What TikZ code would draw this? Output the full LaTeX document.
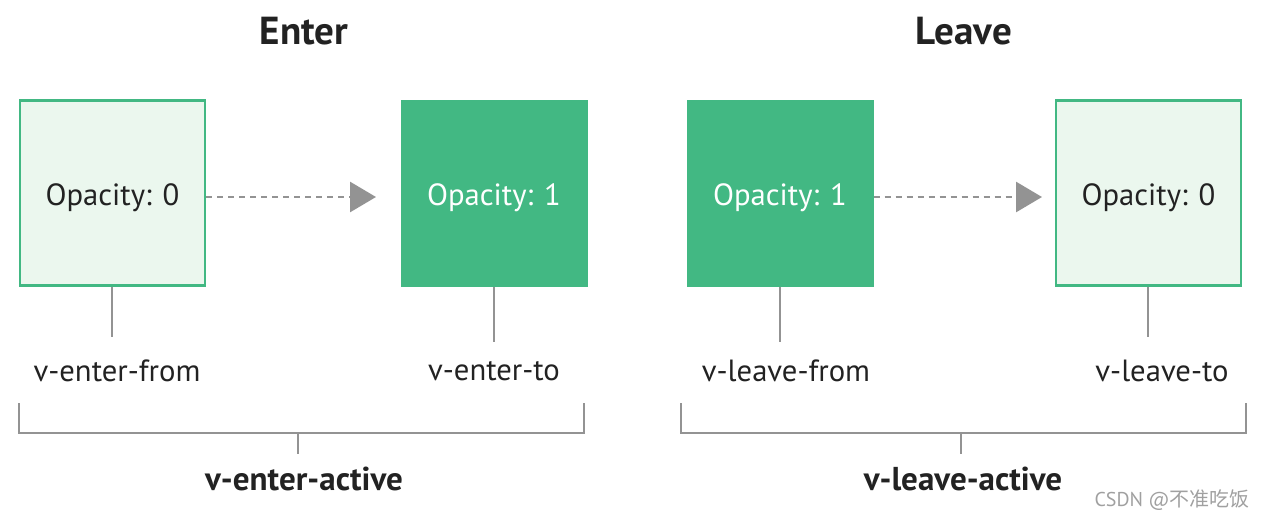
\documentclass[tikz,border=0pt]{standalone}
\usepackage{fontspec}
\setmainfont{PT Sans}
\newfontfamily\cjkfont{Noto Sans CJK SC}
\usetikzlibrary{arrows.meta}
\definecolor{vgreen}{HTML}{42B883}
\definecolor{vlight}{HTML}{EBF7EE}
\definecolor{lgrey}{HTML}{939393}
\definecolor{wgrey}{HTML}{A0A0A0}
\definecolor{tdark}{HTML}{222222}
\tikzset{
  lightbox/.style={draw=vgreen, line width=1.9pt, fill=vlight, minimum width=138.75pt, minimum height=138.75pt, inner sep=0pt},
  fullbox/.style={draw=vgreen, line width=0.75pt, fill=vgreen, minimum width=139.5pt, minimum height=139.5pt, inner sep=0pt},
  darktxt/.style={text=tdark, font=\fontsize{23pt}{26pt}\selectfont, inner sep=0pt},
  whitetxt/.style={text=white, font=\fontsize{23pt}{26pt}\selectfont, inner sep=0pt},
  tick/.style={draw=lgrey, line width=2.2pt},
  flow/.style={draw=lgrey, line width=2.2pt, dash pattern=on 4.5pt off 3.75pt, -{Triangle[length=19.5pt, width=22.5pt, fill=lgrey]}},
  lbl/.style={text=tdark, font=\fontsize{23pt}{26pt}\selectfont, inner sep=0pt},
  blbl/.style={text=tdark, font=\fontsize{24.8pt}{28pt}\bfseries\selectfont, inner sep=0pt},
  ttl/.style={text=tdark, font=\fontsize{29.3pt}{33pt}\bfseries\selectfont, inner sep=0pt},
}
\begin{document}
\begin{tikzpicture}[x=0.75pt, y=-0.75pt]
\useasboundingbox (0,0) rectangle (1264,521);
% titles
\node[ttl] (tEnter) at (304,31) {Enter};
\node[ttl] (tLeave) at (964,31) {Leave};
% boxes
\node[lightbox] (b1) at (112.5,193) {};
\node[fullbox] (b2) at (494,193) {};
\node[fullbox] (b3) at (780,193) {};
\node[lightbox] (b4) at (1148.5,193) {};
\node[darktxt, yshift=-3.5pt] (o1) at (b1.center) {Opacity: 0};
\node[whitetxt, yshift=-3.5pt] (o2) at (b2.center) {Opacity: 1};
\node[whitetxt, yshift=-3.5pt] (o3) at (b3.center) {Opacity: 1};
\node[darktxt, yshift=-3.5pt] (o4) at (b4.center) {Opacity: 0};
% arrows
\coordinate (a1) at (376,197);
\coordinate (a2) at (1042,197);
\draw[flow] (b1.east |- a1) -- (a1);
\draw[flow] (b3.east |- a2) -- (a2);
% labels
\node[lbl] (l1) at (117,371) {v-enter-from};
\node[lbl] (l2) at (494,371) {v-enter-to};
\node[lbl] (l3) at (786,371) {v-leave-from};
\node[lbl] (l4) at (1162,371) {v-leave-to};
\coordinate (t1) at (112,337);
\coordinate (t2) at (494,342);
\coordinate (t3) at (780,342);
\coordinate (t4) at (1148,337);
\draw[tick] (t1 |- b1.south) -- (t1);
\draw[tick] (t2 |- b2.south) -- (t2);
\draw[tick] (t3 |- b3.south) -- (t3);
\draw[tick] (t4 |- b4.south) -- (t4);
% brackets
\coordinate (k1a) at (19,403);
\coordinate (k1b) at (584,403);
\coordinate (k1m) at (298,433);
\coordinate (k1t) at (298,454);
\draw[tick] (k1a) -- (k1a |- k1m) -- (k1b |- k1m) -- (k1b);
\draw[tick] (k1m) -- (k1t);
\coordinate (k2a) at (681,403);
\coordinate (k2b) at (1246,403);
\coordinate (k2m) at (961,433);
\coordinate (k2t) at (961,454);
\draw[tick] (k2a) -- (k2a |- k2m) -- (k2b |- k2m) -- (k2b);
\draw[tick] (k2m) -- (k2t);
\node[blbl] (act1) at (304,479) {v-enter-active};
\node[blbl] (act2) at (963,479) {v-leave-active};
% watermark
\node[text=wgrey, inner sep=0pt, font=\fontsize{15pt}{17pt}\selectfont, anchor=east] (wm) at (1250,500) {CSDN @{\cjkfont 不准吃饭}};
\end{tikzpicture}
\end{document}
